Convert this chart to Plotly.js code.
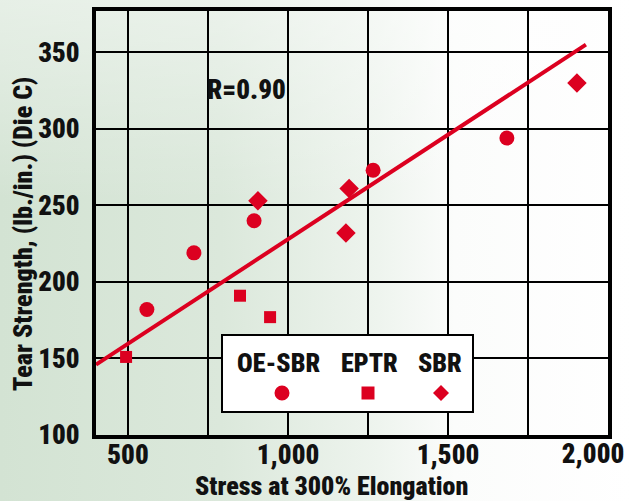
<!DOCTYPE html>
<html>
<head>
<meta charset="utf-8">
<script src="https://cdn.plot.ly/plotly-3.0.1.min.js"></script>
<style>html,body{margin:0;padding:0;background:#fff}#chart{width:631px;height:501px}</style>
</head>
<body>
<div id="chart"></div>
<script>
// ---- data ----
const oeSbrX = [559, 706, 894, 1266, 1684];
const oeSbrY = [182, 219, 240, 273, 294];
const eptrX = [494, 850, 944];
const eptrY = [151, 191, 177];
const sbrX = [906, 1191, 1181, 1903];
const sbrY = [253, 261, 232, 330];
const fitX = [400, 1931];
const fitY = [146, 355];
const xTickVals = [500, 750, 1000, 1250, 1500, 1750, 2000];
const xTickText = ["500", "", "1,000", "", "1,500", "", "2,000"];
const yTickVals = [100, 150, 200, 250, 300, 350];
const yTickText = ["100", "150", "200", "250", "300", "350"];
const seriesNames = ["OE-SBR", "EPTR", "SBR"];
const rLabel = "R=0.90";
const xTitle = "Stress at 300% Elongation";
const yTitle = "Tear Strength, (lb./in.) (Die C)";

const RED = "#dc0020";
const FAM = '"Roboto Condensed", "DejaVu Sans Condensed", sans-serif';
const f = (size) => ({family: FAM, size: size, color: "#111", weight: 900});

// the last x label sits at the right frame edge; it is drawn on an overlay axis nudged left
const nMain = xTickVals.length - 1;
const xMainVals = xTickVals.slice(0, nMain), xMainText = xTickText.slice(0, nMain);
const xEndVals = xTickVals.slice(nMain), xEndText = xTickText.slice(nMain);

const traces = [
  {x: fitX, y: fitY, xaxis: "x2", mode: "lines", line: {color: RED, width: 4}, showlegend: false, hoverinfo: "skip"},
  {x: oeSbrX, y: oeSbrY, name: seriesNames[0], mode: "markers", marker: {symbol: "circle", size: 15, color: RED}, showlegend: false},
  {x: eptrX, y: eptrY, name: seriesNames[1], mode: "markers", marker: {symbol: "square", size: 12, color: RED}, showlegend: false},
  {x: sbrX, y: sbrY, name: seriesNames[2], mode: "markers", marker: {symbol: "diamond", size: 15, color: RED}, showlegend: false}
];

const bg = "data:image/svg+xml;utf8," + encodeURIComponent(
  '<svg xmlns="http://www.w3.org/2000/svg" width="631" height="501" preserveAspectRatio="none">' +
  '<defs><linearGradient id="g" x1="0" y1="0" x2="1" y2="0">' +
  '<stop offset="0" stop-color="#d3e3d3"/><stop offset="0.35" stop-color="#dbe8db"/>' +
  '<stop offset="0.6" stop-color="#eef4ee"/><stop offset="0.72" stop-color="#fbfcfb"/>' +
  '<stop offset="1" stop-color="#ffffff"/></linearGradient>' +
  '<linearGradient id="v" x1="0" y1="0" x2="0" y2="1"><stop offset="0" stop-color="#ffffff" stop-opacity="0.45"/>' +
  '<stop offset="0.4" stop-color="#ffffff" stop-opacity="0"/></linearGradient></defs>' +
  '<rect width="631" height="501" fill="url(#g)"/><rect width="631" height="501" fill="url(#v)"/></svg>');

const px = v => (v - 96) / 512;
const py = v => (435 - v) / 424;
const ann = (text, x, y, size, extra) => Object.assign({
  text: text, xref: "paper", yref: "paper", x: px(x), y: py(y),
  xanchor: "center", yanchor: "middle", showarrow: false, font: f(size)}, extra || {});

const xCommon = {
  range: [400, 2000], tickmode: "array", zeroline: false,
  ticks: "", tickfont: f(27)
};

const layout = {
  width: 631, height: 501,
  margin: {l: 96, r: 23, t: 11, b: 66},
  paper_bgcolor: "rgba(0,0,0,0)",
  plot_bgcolor: "rgba(0,0,0,0)",
  showlegend: false,
  font: f(24),
  images: [{source: bg, xref: "paper", yref: "paper", x: -96/512, y: 1 + 11/424,
            sizex: 631/512, sizey: 501/424, sizing: "stretch", xanchor: "left", yanchor: "top", layer: "below"}],
  xaxis: Object.assign({}, xCommon, {
    tickvals: xMainVals, ticktext: xMainText, ticklabelstandoff: -7,
    showgrid: true, gridcolor: "#000", gridwidth: 2,
    showline: true, linecolor: "#000", linewidth: 4, mirror: true
  }),
  xaxis2: Object.assign({}, xCommon, {
    overlaying: "x", side: "bottom", anchor: "y",
    tickvals: xEndVals, ticktext: xEndText, ticklabelshift: -15,
    showgrid: false, showline: false
  }),
  yaxis: {
    range: [100, 377], tickmode: "array", tickvals: yTickVals, ticktext: yTickText,
    showgrid: true, gridcolor: "#000", gridwidth: 2, zeroline: false,
    showline: true, linecolor: "#000", linewidth: 4, mirror: true,
    ticks: "outside", ticklen: 7, tickcolor: "rgba(0,0,0,0)",
    tickfont: f(27)
  },
  shapes: [
    {type: "rect", xref: "paper", yref: "paper", x0: px(222), x1: px(473), y0: py(412), y1: py(335),
     fillcolor: "#ffffff", line: {color: "#000", width: 2}, layer: "above"},
    {type: "circle", xref: "paper", yref: "paper", xsizemode: "pixel", ysizemode: "pixel",
     xanchor: px(282), yanchor: py(393), x0: -7.5, x1: 7.5, y0: -7.5, y1: 7.5,
     fillcolor: RED, line: {width: 0}, layer: "above"},
    {type: "rect", xref: "paper", yref: "paper", xsizemode: "pixel", ysizemode: "pixel",
     xanchor: px(368), yanchor: py(393), x0: -6.5, x1: 6.5, y0: -6.5, y1: 6.5,
     fillcolor: RED, line: {width: 0}, layer: "above"},
    {type: "path", xref: "paper", yref: "paper", xsizemode: "pixel", ysizemode: "pixel",
     xanchor: px(441), yanchor: py(393), path: "M -8 0 L 0 8 L 8 0 L 0 -8 Z",
     fillcolor: RED, line: {width: 0}, layer: "above"}
  ],
  annotations: [
    ann(rLabel, 246, 90, 27),
    ann(seriesNames[0], 278, 363, 26),
    ann(seriesNames[1], 369, 363, 26),
    ann(seriesNames[2], 440, 363, 26),
    ann(xTitle, 331, 486, 26),
    ann(yTitle, 23, 234, 26, {textangle: -90})
  ]
};

Plotly.newPlot("chart", traces, layout, {staticPlot: true, displayModeBar: false});
</script>
</body>
</html>
